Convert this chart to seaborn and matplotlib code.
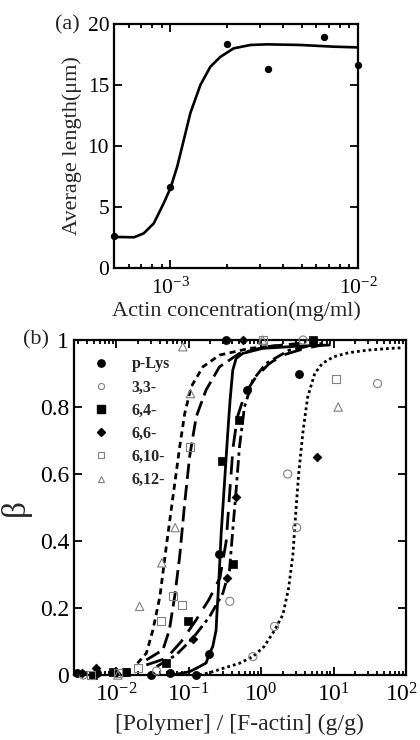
import numpy as np
import pandas as pd
import matplotlib
matplotlib.use("Agg")
import matplotlib.pyplot as plt
import matplotlib.transforms as mtransforms
from matplotlib.ticker import LogLocator, NullFormatter, FixedLocator
from matplotlib.lines import Line2D
import seaborn as sns

sns.set_theme(style="white")
plt.rcParams["font.family"] = ["Liberation Serif", "DejaVu Serif"]
plt.rcParams["mathtext.fontset"] = "custom"
plt.rcParams["mathtext.rm"] = "Liberation Serif"

# ---------------- panel (a): filament length vs actin concentration ----------------
actin_conc = [5.0e-4, 1.0e-3, 2.0e-3, 3.3e-3, 6.6e-3, 1.0e-2]
avg_length = [2.6, 6.6, 18.4, 16.3, 18.9, 16.6]

fit_a_x = [5.0e-4, 6.4e-4, 7.2e-4, 8.15e-4, 9.2e-4, 1.0e-3, 1.086e-3, 1.178e-3,
           1.277e-3, 1.444e-3, 1.633e-3, 1.845e-3, 2.17e-3, 2.67e-3, 3.27e-3,
           4.91e-3, 7.39e-3, 1.0e-2]
fit_a_y = [2.55, 2.52, 2.84, 3.66, 5.3, 6.55, 8.3, 10.5, 12.7, 15.0, 16.5, 17.3,
           18.0, 18.28, 18.33, 18.28, 18.14, 18.08]

# ---------------- panel (b): bundled fraction vs polymer/actin ratio ----------------
series = ["p-Lys", "3,3-", "6,4-", "6,6-", "6,10-", "6,12-"]

plys_x = [0.0029, 0.0055, 0.0137, 0.030, 0.055, 0.127, 0.19, 0.26, 0.33, 0.64, 3.3]
plys_y = [0.005, 0.005, 0.01, 0.0, 0.005, 0.0, 0.062, 0.36, 1.0, 0.85, 0.90]

p33_x = [0.0035, 0.036, 0.37, 0.77, 1.53, 2.33, 3.1, 3.8, 40.6]
p33_y = [0.0, 0.012, 0.22, 0.055, 0.145, 0.60, 0.44, 1.0, 0.87]

p64_x = [0.0048, 0.0089, 0.0137, 0.049, 0.097, 0.29, 0.41, 0.50, 5.15]
p64_y = [0.0, 0.01, 0.01, 0.037, 0.16, 0.64, 0.33, 0.76, 1.0]

p66_x = [0.0034, 0.0053, 0.010, 0.114, 0.34, 0.45, 0.56, 5.85]
p66_y = [0.005, 0.02, 0.005, 0.107, 0.29, 0.53, 1.0, 0.65]

p610_x = [0.0045, 0.0105, 0.020, 0.041, 0.060, 0.081, 0.103, 1.05, 10.8]
p610_y = [0.0, 0.005, 0.02, 0.16, 0.235, 0.21, 0.68, 1.0, 0.885]

p612_x = [0.0105, 0.021, 0.0426, 0.065, 0.083, 0.106, 1.05, 11.6]
p612_y = [0.0, 0.205, 0.335, 0.44, 0.98, 0.84, 1.0, 0.80]

# fitted curves
fit_plys_x = [0.06, 0.103, 0.141, 0.174, 0.194, 0.215, 0.239, 0.244, 0.26, 0.281,
              0.312, 0.346, 0.373, 0.406, 0.452, 0.557, 1.04, 3.4, 8.8]
fit_plys_y = [0.0, 0.01, 0.025, 0.036, 0.065, 0.085, 0.134, 0.174, 0.275, 0.424,
              0.573, 0.722, 0.821, 0.91, 0.945, 0.96, 0.975, 0.982, 0.985]

fit_p33_x = [0.14, 0.2, 0.3, 0.5, 0.77, 1.1, 1.5, 2.0, 2.4, 2.75, 3.0, 3.3, 3.8,
             4.4, 5.5, 7.0, 10.0, 16.0, 30.0, 60.0, 90.0]
fit_p33_y = [0.0, 0.008, 0.02, 0.035, 0.055, 0.085, 0.13, 0.18, 0.26, 0.36, 0.48,
             0.6, 0.73, 0.83, 0.9, 0.93, 0.95, 0.962, 0.97, 0.975, 0.977]

fit_p64_x = [0.026, 0.049, 0.079, 0.127, 0.19, 0.27, 0.33, 0.37, 0.41, 0.47, 0.6,
             0.85, 1.3, 2.0, 4.0, 7.0]
fit_p64_y = [0.03, 0.05, 0.10, 0.165, 0.225, 0.29, 0.40, 0.55, 0.68, 0.77, 0.84,
             0.89, 0.93, 0.955, 0.975, 0.985]

fit_p66_x = [0.036, 0.067, 0.114, 0.194, 0.296, 0.366, 0.406, 0.452, 0.502, 0.589,
             0.766, 1.17, 2.45, 7.0]
fit_p66_y = [0.025, 0.06, 0.11, 0.174, 0.244, 0.313, 0.433, 0.552, 0.68, 0.80,
             0.88, 0.93, 0.97, 0.99]

fit_p610_x = [0.026, 0.044, 0.054, 0.064, 0.075, 0.088, 0.103, 0.127, 0.174, 0.266,
              0.50, 1.17, 3.4]
fit_p610_y = [0.045, 0.075, 0.134, 0.234, 0.353, 0.513, 0.652, 0.771, 0.851, 0.92,
              0.96, 0.98, 0.99]

fit_p612_x = [0.0196, 0.026, 0.032, 0.040, 0.049, 0.0606, 0.075, 0.088, 0.108,
              0.157, 0.266, 0.69, 1.99]
fit_p612_y = [0.035, 0.065, 0.134, 0.234, 0.383, 0.532, 0.68, 0.78, 0.86, 0.92,
              0.955, 0.975, 0.985]

# ---------------- figure ----------------
fig = plt.figure(figsize=(4.2, 7.4), dpi=100)
ax_a = fig.add_axes([0.2714, 0.6378, 0.581, 0.3298])
ax_b = fig.add_axes([0.176, 0.0878, 0.7905, 0.4527])


def style_axes(ax, fs, pad):
    for sp in ax.spines.values():
        sp.set_linewidth(1.6)
        sp.set_color("black")
    ax.tick_params(which="both", direction="in", top=True, right=True,
                   bottom=True, left=True, colors="black", labelsize=fs,
                   width=1.3)
    ax.tick_params(which="major", length=6)
    ax.tick_params(which="minor", length=3)
    ax.tick_params(axis="x", which="both", pad=pad)
    ax.grid(False)
    ax.set_facecolor("white")


# panel (a)
sns.lineplot(x=fit_a_x, y=fit_a_y, ax=ax_a, color="black", linewidth=1.9,
             estimator=None, sort=False)
sns.scatterplot(x=actin_conc, y=avg_length, ax=ax_a, color="black", s=28,
                edgecolor="black", linewidth=0, zorder=5, clip_on=False)
ax_a.set_xscale("log")
ax_a.set_xlim(5e-4, 1e-2)
ax_a.set_ylim(0, 20)
ax_a.yaxis.set_major_locator(FixedLocator([0, 5, 10, 15, 20]))
ax_a.xaxis.set_major_locator(LogLocator(base=10, numticks=10))
ax_a.xaxis.set_minor_locator(LogLocator(base=10, subs=np.arange(2, 10), numticks=10))
ax_a.xaxis.set_minor_formatter(NullFormatter())
style_axes(ax_a, 15.5, 7)
ax_a.set_xlabel("Actin concentration(mg/ml)", fontsize=16, labelpad=2)
ax_a.set_ylabel("Average length(\u03bcm)", fontsize=16, labelpad=4)
fig.text(0.13, 0.966, "(a)", fontsize=16, ha="left", va="center")

# panel (b)
curves = [
    (fit_p612_x, fit_p612_y, (0, (2.2, 1.6))),
    (fit_p610_x, fit_p610_y, (0, (5.5, 2.2))),
    (fit_plys_x, fit_plys_y, "-"),
    (fit_p64_x, fit_p64_y, (0, (6.5, 3.5))),
    (fit_p66_x, fit_p66_y, (0, (4.5, 1.6, 1.2, 1.6))),
    (fit_p33_x, fit_p33_y, (0, (1.0, 1.1))),
]
for cx, cy, ls in curves:
    sns.lineplot(x=cx, y=cy, ax=ax_b, color="black", linewidth=2.0,
                 linestyle=ls, estimator=None, sort=False)

marker_specs = {
    "p-Lys": (plys_x, plys_y, "o", True, 34),
    "3,3-": (p33_x, p33_y, "o", False, 34),
    "6,4-": (p64_x, p64_y, "s", True, 34),
    "6,6-": (p66_x, p66_y, "D", True, 20),
    "6,10-": (p610_x, p610_y, "s", False, 34),
    "6,12-": (p612_x, p612_y, "^", False, 36),
}
handles = []
for name in series:
    xs, ys, mk, filled, size = marker_specs[name]
    if filled:
        sns.scatterplot(x=xs, y=ys, ax=ax_b, marker=mk, s=size, color="black",
                        edgecolor="black", linewidth=0.5, zorder=5, clip_on=False)
        handles.append(Line2D([], [], marker=mk, linestyle="none", color="black",
                              markersize=np.sqrt(size) * 0.9, label=name))
    else:
        sns.scatterplot(x=xs, y=ys, ax=ax_b, marker=mk, s=size, facecolor="none",
                        edgecolor="0.5", linewidth=0.8, zorder=5, clip_on=False)
        handles.append(Line2D([], [], marker=mk, linestyle="none",
                              markerfacecolor="none", markeredgecolor="0.5",
                              markeredgewidth=0.8,
                              markersize=np.sqrt(size) * 0.75, label=name))

ax_b.set_xscale("log")
ax_b.set_xlim(2.6e-3, 100)
ax_b.set_ylim(0, 1)
ax_b.yaxis.set_major_locator(FixedLocator([0, 0.2, 0.4, 0.6, 0.8, 1.0]))
ax_b.set_yticklabels(["0", "0.2", "0.4", "0.6", "0.8", "1"])
ax_b.xaxis.set_major_locator(LogLocator(base=10, numticks=10))
ax_b.xaxis.set_minor_locator(LogLocator(base=10, subs=np.arange(2, 10), numticks=12))
ax_b.xaxis.set_minor_formatter(NullFormatter())
style_axes(ax_b, 17, 6)
ax_b.set_xlabel("[Polymer] / [F-actin] (g/g)", fontsize=17, labelpad=5)
ax_b.set_ylabel("\u03b2", fontsize=24, labelpad=6)
fig.text(0.055, 0.541, "(b)", fontsize=16, ha="left", va="center")

# keep the rightmost decade label inside the canvas
fig.canvas.draw()
shift = mtransforms.ScaledTranslation(-4 / 100, 0, fig.dpi_scale_trans)
for lbl in ax_b.get_xticklabels():
    if "{2}" in lbl.get_text():
        lbl.set_transform(lbl.get_transform() + shift)

leg = ax_b.legend(handles=handles, loc="upper left", bbox_to_anchor=(0.0, 0.985),
                  frameon=False, handletextpad=0.9, labelspacing=0.45,
                  borderaxespad=0.3, prop={"weight": "bold", "size": 11.5})

fig.savefig("out.png", dpi=100, facecolor="white")
